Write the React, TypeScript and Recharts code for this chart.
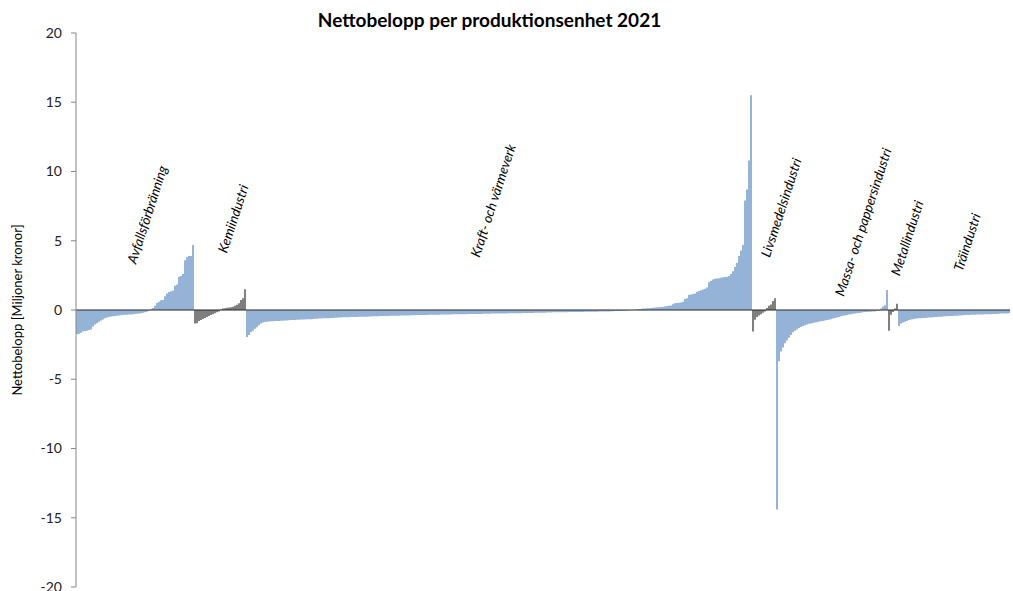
import React from "react";
import {
  BarChart,
  Bar,
  Cell,
  XAxis,
  YAxis,
  ReferenceLine,
  ReferenceDot,
} from "recharts";

// values in miljoner kronor, one bar per production unit, sorted within each sector
const avfall = [
  -1.75, -1.72, -1.65, -1.55, -1.52, -1.5, -1.45, -1.4, -1.2, -1.05,
  -0.95, -0.85, -0.75, -0.68, -0.6, -0.55, -0.5, -0.47, -0.45, -0.43,
  -0.41, -0.4, -0.38, -0.37, -0.35, -0.34, -0.33, -0.32, -0.3, -0.29,
  -0.27, -0.25, -0.23, -0.2, -0.17, -0.12, -0.06,
  0.05, 0.15, 0.3, 0.5, 0.6, 0.7, 0.72, 1.0, 1.2, 1.3,
  1.35, 1.4, 1.75, 1.85, 2.4, 2.45, 2.6, 3.6, 3.8, 3.9,
  3.9, 4.7,
];

const kemi = [
  -0.98, -0.95, -0.8, -0.72, -0.65, -0.58, -0.5, -0.43, -0.36, -0.3,
  -0.24, -0.17, -0.1,
  0.06, 0.1, 0.13, 0.16, 0.18, 0.2, 0.24, 0.3, 0.38, 0.48, 0.72, 0.85, 1.5,
];

const kraft = [
  -1.95, -1.8, -1.6, -1.5, -1.35, -1.25, -1.1, -0.98, -0.9, -0.86,
  -0.84, -0.83, -0.82, -0.81, -0.8, -0.8, -0.79, -0.78, -0.77, -0.76,
  -0.75, -0.74, -0.73, -0.72, -0.72, -0.71, -0.7, -0.69, -0.69, -0.68,
  -0.67, -0.67, -0.66, -0.65, -0.64, -0.63, -0.62, -0.61, -0.6, -0.6,
  -0.6, -0.59, -0.58, -0.57, -0.56, -0.56, -0.55, -0.54, -0.53, -0.53,
  -0.52, -0.52, -0.51, -0.51, -0.5, -0.5, -0.49, -0.49, -0.48, -0.48,
  -0.48, -0.47, -0.47, -0.46, -0.46, -0.45, -0.45, -0.44, -0.44, -0.43,
  -0.43, -0.43, -0.42, -0.42, -0.42, -0.41, -0.41, -0.4, -0.4, -0.4,
  -0.39, -0.39, -0.38, -0.38, -0.38, -0.37, -0.37, -0.37, -0.36, -0.36,
  -0.36, -0.35, -0.35, -0.35, -0.34, -0.34, -0.34, -0.33, -0.33, -0.33,
  -0.32, -0.32, -0.32, -0.31, -0.31, -0.31, -0.31, -0.3, -0.3, -0.3,
  -0.3, -0.29, -0.29, -0.29, -0.28, -0.28, -0.28, -0.28, -0.27, -0.27,
  -0.27, -0.27, -0.26, -0.26, -0.26, -0.26, -0.25, -0.25, -0.25, -0.25,
  -0.25, -0.24, -0.24, -0.24, -0.24, -0.23, -0.23, -0.23, -0.22, -0.22,
  -0.22, -0.21, -0.21, -0.21, -0.2, -0.2, -0.2, -0.19, -0.19, -0.19,
  -0.18, -0.18, -0.18, -0.17, -0.17, -0.17, -0.17, -0.16, -0.16, -0.16,
  -0.16, -0.15, -0.15, -0.15, -0.15, -0.14, -0.14, -0.14, -0.14, -0.13,
  -0.13, -0.13, -0.13, -0.12, -0.12, -0.12, -0.11, -0.11, -0.11, -0.1,
  -0.1, -0.1, -0.09, -0.09, -0.08, -0.08, -0.07, -0.07, -0.06, -0.05,
  -0.04, -0.03, -0.02, -0.01,
  0.03, 0.05, 0.07, 0.08, 0.1, 0.11, 0.12, 0.13, 0.15, 0.16,
  0.18, 0.19, 0.2, 0.21, 0.22, 0.25, 0.28, 0.3, 0.33, 0.42,
  0.48, 0.5, 0.52, 0.55, 0.6, 0.8, 0.85, 1.1, 1.12, 1.15,
  1.2, 1.3, 1.37, 1.42, 1.48, 1.54, 1.62, 2.0, 2.1, 2.2,
  2.25, 2.28, 2.3, 2.33, 2.36, 2.38, 2.4, 2.45, 2.6, 2.8,
  3.1, 3.4, 3.9, 4.3, 4.7, 7.9, 8.7, 10.8, 15.5,
];

const livsmedel = [-1.56, -0.7, -0.5, -0.4, -0.3, -0.2, -0.1, 0.15, 0.3, 0.4, 0.65, 0.85];

const massa = [
  -14.4, -3.7, -3.0, -2.7, -2.4, -2.2, -2.0, -1.8, -1.6, -1.5,
  -1.4, -1.3, -1.22, -1.15, -1.1, -1.05, -1.0, -0.97, -0.94, -0.91,
  -0.88, -0.85, -0.82, -0.79, -0.76, -0.73, -0.7, -0.66, -0.62, -0.58,
  -0.54, -0.5, -0.46, -0.42, -0.39, -0.36, -0.33, -0.3, -0.27, -0.25,
  -0.23, -0.21, -0.19, -0.17, -0.15, -0.14, -0.13, -0.12, -0.11, -0.1,
  -0.08, -0.05, 0.1, 0.25, 0.35, 1.45,
];

const metall = [-1.5, -0.35, -0.15, 0.1, 0.45];

const tra = [
  -1.15, -1.0, -0.9, -0.85, -0.8, -0.72, -0.68, -0.66, -0.64, -0.62,
  -0.6, -0.59, -0.58, -0.57, -0.56, -0.55, -0.54, -0.52, -0.51, -0.5,
  -0.49, -0.48, -0.47, -0.46, -0.45, -0.44, -0.43, -0.43, -0.42, -0.41,
  -0.4, -0.39, -0.38, -0.37, -0.37, -0.36, -0.35, -0.35, -0.34, -0.33,
  -0.33, -0.32, -0.32, -0.31, -0.31, -0.3, -0.3, -0.29, -0.28, -0.28,
  -0.27, -0.26, -0.26, -0.25, -0.25, -0.24,
];

const sectorNames = [
  "Avfallsförbränning",
  "Kemiindustri",
  "Kraft- och värmeverk",
  "Livsmedelsindustri",
  "Massa- och pappersindustri",
  "Metallindustri",
  "Träindustri",
];
const sectorValues = [avfall, kemi, kraft, livsmedel, massa, metall, tra];

// where each sector name sits: [bar index counted from the sector's first bar, value]
const labelAnchors = [
  [35, 6.9],
  [19, 6.6],
  [123, 7.9],
  [14, 7.4],
  [43, 6.35],
  [9, 5.2],
  [34, 4.9],
];

const yTicks = [20, 15, 10, 5, 0, -5, -10, -15, -20];

const BLUE = "#95B3D7";
const GRAY = "#7F7F7F";
const FONT = "Lato, 'Open Sans', sans-serif";

const chartData: { id: string; value: number; color: string }[] = [];
const sectorStart: number[] = [];
sectorValues.forEach((values, s) => {
  sectorStart.push(chartData.length);
  values.forEach((v) => {
    chartData.push({ id: `b${chartData.length}`, value: v, color: s % 2 === 0 ? BLUE : GRAY });
  });
});

const SectorLabel = (text: string) => (props: any) => {
  const { cx, cy } = props;
  if (cx == null || cy == null) return null;
  return (
    <text
      x={cx}
      y={cy}
      transform={`rotate(-72 ${cx} ${cy})`}
      textAnchor="middle"
      dominantBaseline="central"
      fontFamily={FONT}
      fontStyle="italic"
      fontSize={13.5}
      fill="#000"
    >
      {text}
    </text>
  );
};

export default function App() {
  return (
    <div style={{ position: "absolute", left: 0, top: 0, width: 1013, height: 591, background: "#fff", fontFamily: FONT }}>
      <div
        style={{
          position: "absolute",
          left: 0,
          top: 8,
          width: 979,
          textAlign: "center",
          fontWeight: 700,
          fontSize: 19,
          color: "#000",
        }}
      >
        Nettobelopp per produktionsenhet 2021
      </div>
      <BarChart
        width={1013}
        height={591}
        data={chartData}
        margin={{ top: 33, right: 3, bottom: 4, left: 0 }}
        barCategoryGap={0}
        barGap={0}
      >
        <XAxis dataKey="id" hide />
        <YAxis
          width={76}
          domain={[-20, 20]}
          ticks={yTicks}
          interval={0}
          allowDataOverflow
          axisLine={{ stroke: "#868686" }}
          tickLine={{ stroke: "#868686" }}
          tickSize={5}
          tickMargin={9}
          tick={{ fill: "#222", fontSize: 14, fontFamily: FONT }}
          label={{
            value: "Nettobelopp [Miljoner kronor]",
            angle: -90,
            position: "center",
            dx: -21,
            style: { fill: "#000", fontSize: 13, fontFamily: FONT, textAnchor: "middle" },
          }}
        />
        <Bar dataKey="value" isAnimationActive={false}>
          {chartData.map((d) => (
            <Cell key={d.id} fill={d.color} />
          ))}
        </Bar>
        <ReferenceLine y={0} stroke="#262626" strokeWidth={1} />
        {sectorNames.map((name, s) => (
          <ReferenceDot
            key={name}
            x={`b${sectorStart[s] + labelAnchors[s][0]}`}
            y={labelAnchors[s][1]}
            r={0}
            ifOverflow="visible"
            shape={SectorLabel(name)}
          />
        ))}
      </BarChart>
    </div>
  );
}
